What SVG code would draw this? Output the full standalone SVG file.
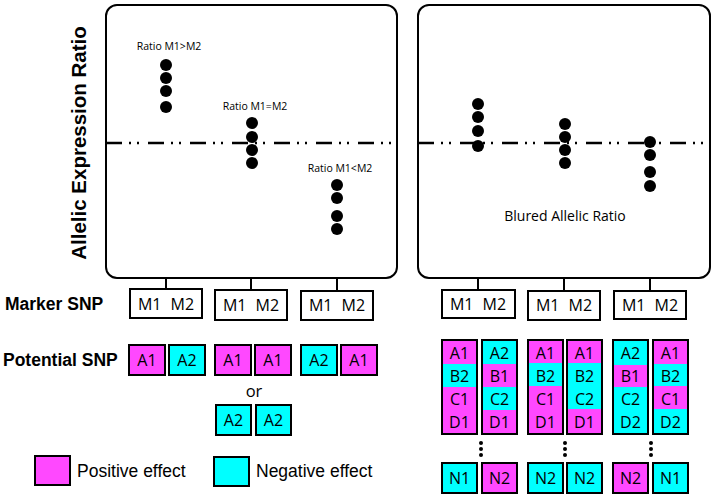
<svg xmlns="http://www.w3.org/2000/svg" width="716" height="498" viewBox="0 0 716 498">
<style>
.panel{fill:#fff;stroke:#000;stroke-width:2}
.dash{stroke:#000;stroke-width:2.5;stroke-dasharray:16 7 2 6 2 9;fill:none}
.dot{fill:#000}
.box{fill:#fff;stroke:#000;stroke-width:2}
.pos{fill:#ff48ff}
.neg{fill:#00ffff}
.ol{fill:none;stroke:#000;stroke-width:2}
.sq{stroke:#000;stroke-width:2}
.t{font-family:"Open Sans",sans-serif;font-size:16px;text-anchor:middle;fill:#000}
.mk{word-spacing:5px}
.s{font-family:"Open Sans",sans-serif;font-size:10.5px;text-anchor:middle;fill:#000}
.b{font-family:"Liberation Sans",Arial,sans-serif;font-weight:bold;fill:#000}
.l{font-family:"Liberation Sans",Arial,sans-serif;font-size:17.5px;fill:#000}
.tick{stroke:#000;stroke-width:2}
</style>
<rect width="716" height="498" fill="#fff"/>
<g id="panel-left">
<rect class="panel" x="106" y="5" width="291" height="273" rx="11"/>
<line class="dash" x1="106" y1="143" x2="397" y2="143"/>
<text class="s" x="169" y="50">Ratio M1&gt;M2</text>
<circle class="dot" cx="166" cy="65" r="6"/><circle class="dot" cx="166" cy="78" r="6"/><circle class="dot" cx="166" cy="91" r="6"/><circle class="dot" cx="166" cy="107" r="6"/>
<text class="s" x="255" y="110">Ratio M1=M2</text>
<circle class="dot" cx="252" cy="123" r="6"/><circle class="dot" cx="252" cy="137" r="6"/><circle class="dot" cx="252" cy="150" r="6"/><circle class="dot" cx="252" cy="163" r="6"/>
<text class="s" x="340" y="172">Ratio M1&lt;M2</text>
<circle class="dot" cx="337" cy="185" r="6"/><circle class="dot" cx="337" cy="198" r="6"/><circle class="dot" cx="337" cy="216" r="6"/><circle class="dot" cx="337" cy="229" r="6"/>
</g>
<g id="panel-right">
<rect class="panel" x="418" y="5" width="292" height="273" rx="11"/>
<line class="dash" x1="418" y1="143" x2="710" y2="143"/>
<circle class="dot" cx="478" cy="104" r="6"/><circle class="dot" cx="478" cy="117" r="6"/><circle class="dot" cx="478" cy="131" r="6"/><circle class="dot" cx="478" cy="146" r="6"/>
<circle class="dot" cx="565" cy="124" r="6"/><circle class="dot" cx="565" cy="137" r="6"/><circle class="dot" cx="565" cy="150" r="6"/><circle class="dot" cx="565" cy="163" r="6"/>
<circle class="dot" cx="650" cy="142" r="6"/><circle class="dot" cx="650" cy="155" r="6"/><circle class="dot" cx="650" cy="172" r="6"/><circle class="dot" cx="650" cy="186" r="6"/>
<text class="t" x="565" y="221" style="font-size:14px">Blured Allelic Ratio</text>
</g>
<g id="axis-label">
<text class="b" transform="translate(86,143) rotate(-90)" text-anchor="middle" font-size="20.5">Allelic Expression Ratio</text>
</g>
<g id="row-labels">
<text class="b" x="5" y="310" font-size="17.5">Marker SNP</text>
<text class="b" x="3" y="366" font-size="17.5">Potential SNP</text>
</g>
<g id="connectors">
<line class="tick" x1="166" y1="278" x2="166" y2="289"/>
<line class="tick" x1="251" y1="278" x2="251" y2="290"/>
<line class="tick" x1="337" y1="278" x2="337" y2="291"/>
<line class="tick" x1="478" y1="278" x2="478" y2="290"/>
<line class="tick" x1="564" y1="278" x2="564" y2="291"/>
<line class="tick" x1="650" y1="278" x2="650" y2="291"/>
</g>
<g id="markers">
<g id="m1"><rect class="box" x="130" y="289" width="72" height="29"/><text class="t mk" x="166" y="310">M1 M2</text></g>
<g id="m2"><rect class="box" x="215" y="290" width="72" height="30"/><text class="t mk" x="251" y="311">M1 M2</text></g>
<g id="m3"><rect class="box" x="301" y="291" width="72" height="29"/><text class="t mk" x="337" y="311">M1 M2</text></g>
<g id="m4"><rect class="box" x="442" y="290" width="73" height="28"/><text class="t mk" x="478" y="310">M1 M2</text></g>
<g id="m5"><rect class="box" x="528" y="291" width="72" height="29"/><text class="t mk" x="564" y="311">M1 M2</text></g>
<g id="m6"><rect class="box" x="614" y="291" width="72" height="28"/><text class="t mk" x="650" y="311">M1 M2</text></g>
</g>
<g id="potential-left">
<g id="p1"><rect class="sq pos" x="129" y="345" width="36" height="30"/><text class="t" x="147" y="366">A1</text></g>
<g id="p2"><rect class="sq neg" x="169" y="345" width="36" height="30"/><text class="t" x="187" y="366">A2</text></g>
<g id="p3"><rect class="sq pos" x="215" y="345" width="36" height="30"/><text class="t" x="233" y="366">A1</text></g>
<g id="p4"><rect class="sq pos" x="255" y="345" width="36" height="30"/><text class="t" x="273" y="366">A1</text></g>
<g id="p5"><rect class="sq neg" x="301" y="345" width="36" height="30"/><text class="t" x="319" y="366">A2</text></g>
<g id="p6"><rect class="sq pos" x="341" y="345" width="36" height="30"/><text class="t" x="359" y="366">A1</text></g>
<text class="t" x="254" y="397" style="font-size:16.5px">or</text>
<g id="p7"><rect class="sq neg" x="216" y="405" width="35" height="30"/><text class="t" x="233.5" y="426">A2</text></g>
<g id="p8"><rect class="sq neg" x="256" y="405" width="35" height="30"/><text class="t" x="273.5" y="426">A2</text></g>
</g>
<g id="potential-right">
<g id="c1"><rect class="pos" x="442" y="340" width="35" height="24"/><rect class="neg" x="442" y="364" width="35" height="23"/><rect class="pos" x="442" y="387" width="35" height="47"/><rect class="ol" x="442" y="340" width="35" height="94"/>
<text class="t" x="459.5" y="359">A1</text><text class="t" x="459.5" y="382">B2</text><text class="t" x="459.5" y="405">C1</text><text class="t" x="459.5" y="428">D1</text></g>
<g id="c2"><rect class="neg" x="482" y="340" width="35" height="24"/><rect class="pos" x="482" y="364" width="35" height="23"/><rect class="neg" x="482" y="387" width="35" height="23"/><rect class="pos" x="482" y="410" width="35" height="24"/><rect class="ol" x="482" y="340" width="35" height="94"/>
<text class="t" x="499.5" y="359">A2</text><text class="t" x="499.5" y="382">B1</text><text class="t" x="499.5" y="405">C2</text><text class="t" x="499.5" y="428">D1</text></g>
<g id="c3"><rect class="pos" x="528" y="340" width="35" height="23"/><rect class="neg" x="528" y="363" width="35" height="23"/><rect class="pos" x="528" y="386" width="35" height="48"/><rect class="ol" x="528" y="340" width="35" height="94"/>
<text class="t" x="545.5" y="359">A1</text><text class="t" x="545.5" y="382">B2</text><text class="t" x="545.5" y="405">C1</text><text class="t" x="545.5" y="428">D1</text></g>
<g id="c4"><rect class="pos" x="567" y="340" width="35" height="23"/><rect class="neg" x="567" y="363" width="35" height="46"/><rect class="pos" x="567" y="409" width="35" height="25"/><rect class="ol" x="567" y="340" width="35" height="94"/>
<text class="t" x="584.5" y="359">A1</text><text class="t" x="584.5" y="382">B2</text><text class="t" x="584.5" y="405">C2</text><text class="t" x="584.5" y="428">D1</text></g>
<g id="c5"><rect class="neg" x="613" y="340" width="35" height="25"/><rect class="pos" x="613" y="365" width="35" height="22"/><rect class="neg" x="613" y="387" width="35" height="47"/><rect class="ol" x="613" y="340" width="35" height="94"/>
<text class="t" x="630.5" y="359">A2</text><text class="t" x="630.5" y="382">B1</text><text class="t" x="630.5" y="405">C2</text><text class="t" x="630.5" y="428">D2</text></g>
<g id="c6"><rect class="pos" x="653" y="340" width="35" height="24"/><rect class="neg" x="653" y="364" width="35" height="22"/><rect class="pos" x="653" y="386" width="35" height="23"/><rect class="neg" x="653" y="409" width="35" height="25"/><rect class="ol" x="653" y="340" width="35" height="94"/>
<text class="t" x="670.5" y="359">A1</text><text class="t" x="670.5" y="382">B2</text><text class="t" x="670.5" y="405">C1</text><text class="t" x="670.5" y="428">D2</text></g>
<g id="ellipses">
<circle class="dot" cx="481" cy="443" r="2"/><circle class="dot" cx="481" cy="449" r="2"/><circle class="dot" cx="481" cy="455" r="2"/>
<circle class="dot" cx="565" cy="443" r="2"/><circle class="dot" cx="565" cy="449" r="2"/><circle class="dot" cx="565" cy="455" r="2"/>
<circle class="dot" cx="651" cy="443" r="2"/><circle class="dot" cx="651" cy="449" r="2"/><circle class="dot" cx="651" cy="455" r="2"/>
</g>
<g id="n1"><rect class="sq neg" x="442" y="463" width="35" height="30"/><text class="t" x="459.5" y="484">N1</text></g>
<g id="n2"><rect class="sq pos" x="482" y="463" width="35" height="30"/><text class="t" x="499.5" y="484">N2</text></g>
<g id="n3"><rect class="sq neg" x="528" y="463" width="35" height="30"/><text class="t" x="545.5" y="484">N2</text></g>
<g id="n4"><rect class="sq neg" x="567" y="463" width="35" height="30"/><text class="t" x="584.5" y="484">N2</text></g>
<g id="n5"><rect class="sq pos" x="613" y="463" width="35" height="30"/><text class="t" x="630.5" y="484">N2</text></g>
<g id="n6"><rect class="sq neg" x="653" y="463" width="35" height="30"/><text class="t" x="670.5" y="484">N1</text></g>
</g>
<g id="legend">
<rect class="sq pos" x="35" y="456" width="35" height="29"/>
<text class="l" x="77" y="477">Positive effect</text>
<rect class="sq neg" x="214" y="457" width="35" height="29"/>
<text class="l" x="256" y="477">Negative effect</text>
</g>
</svg>
